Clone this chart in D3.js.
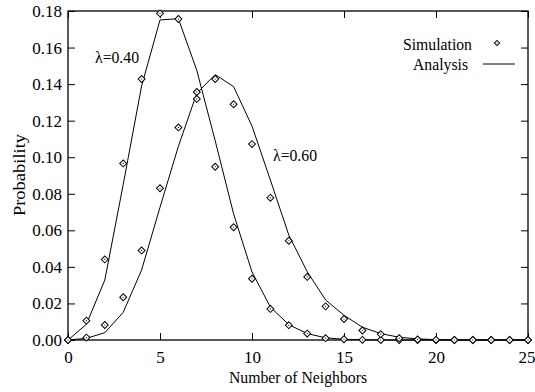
<!DOCTYPE html>
<meta charset="utf-8">
<style>
 body { margin: 0; background: #fff; }
 svg text { font-family: "Liberation Serif", "DejaVu Serif", serif; fill: #000; }
 .axis path { display: none; }
 .axis line { stroke: #000; stroke-width: 1; }
 .axis text { font-size: 17px; }
</style>
<body>
<script src="https://cdn.jsdelivr.net/npm/d3@7"></script>
<script>

 // number of neighbours on the x axis
 var neighbors = [0, 1, 2, 3, 4, 5, 6, 7, 8, 9, 10, 11, 12, 13, 14, 15, 16, 17, 18, 19, 20, 21, 22, 23, 24, 25];

 // lambda = 0.40
 var sim040 = [0.0000, 0.0106, 0.0441, 0.0966, 0.1428, 0.1787, 0.1756, 0.1319, 0.0948, 0.0617,
               0.0335, 0.0170, 0.0081, 0.0035, 0.0010, 0.0004, 0.0001, 0.0000, 0.0000, 0.0000,
               0.0000, 0.0000, 0.0000, 0.0000, 0.0000, 0.0000];
 var ana040 = [0.0000, 0.0086, 0.0328, 0.0850, 0.1390, 0.1751, 0.1758, 0.1475, 0.1090, 0.0690,
               0.0372, 0.0180, 0.0084, 0.0035, 0.0012, 0.0004, 0.0001, 0.0000, 0.0000, 0.0000,
               0.0000, 0.0000, 0.0000, 0.0000, 0.0000, 0.0000];

 // lambda = 0.60
 var sim060 = [0.0000, 0.0013, 0.0082, 0.0234, 0.0490, 0.0830, 0.1163, 0.1357, 0.1428, 0.1290,
               0.1072, 0.0778, 0.0543, 0.0345, 0.0184, 0.0115, 0.0052, 0.0032, 0.0010, 0.0003,
               0.0001, 0.0000, 0.0000, 0.0000, 0.0000, 0.0000];
 var ana060 = [0.0000, 0.0009, 0.0040, 0.0151, 0.0383, 0.0726, 0.1060, 0.1350, 0.1452, 0.1386,
               0.1170, 0.0875, 0.0574, 0.0374, 0.0219, 0.0135, 0.0070, 0.0035, 0.0015, 0.0006,
               0.0002, 0.0001, 0.0000, 0.0000, 0.0000, 0.0000];

 var xTicks = [0, 5, 10, 15, 20, 25];
 var yTicks = [0, 0.02, 0.04, 0.06, 0.08, 0.10, 0.12, 0.14, 0.16, 0.18];

 var margin = {top: 11, right: 7, bottom: 52, left: 68},
     width = 535 - margin.left - margin.right,
     height = 392 - margin.top - margin.bottom;

 var xScale = d3.scaleLinear().domain([0, 25]).range([0, width]);
 var yScale = d3.scaleLinear().domain([0, 0.18]).range([height, 0]);

 var svg = d3.select("body").append("svg")
             .attr("width", 535)
             .attr("height", 392)
             .append("g")
             .attr("transform", "translate(" + margin.left + "," + margin.top + ")");

 // axes, ticks pointing inwards on all four sides
 var gX = svg.append("g").attr("class", "axis")
    .attr("transform", "translate(0," + height + ")")
    .call(d3.axisBottom(xScale).tickValues(xTicks).tickSizeInner(-7).tickSizeOuter(0).tickPadding(11));
 // last label sits against the window edge
 gX.selectAll("text").filter(function(d) { return d === 25; }).attr("dx", -1.5);
 svg.append("g").attr("class", "axis")
    .call(d3.axisTop(xScale).tickValues(xTicks).tickSizeInner(-7).tickSizeOuter(0).tickFormat(""));
 svg.append("g").attr("class", "axis")
    .call(d3.axisLeft(yScale).tickValues(yTicks).tickSizeInner(-7).tickSizeOuter(0).tickPadding(6)
            .tickFormat(d3.format(".2f")));
 svg.append("g").attr("class", "axis")
    .attr("transform", "translate(" + width + ",0)")
    .call(d3.axisRight(yScale).tickValues(yTicks).tickSizeInner(-7).tickSizeOuter(0).tickFormat(""));
 svg.selectAll(".axis").attr("font-family", null);

 svg.append("rect")
    .attr("width", width)
    .attr("height", height)
    .attr("fill", "none")
    .attr("stroke", "#000")
    .attr("stroke-width", 1.3);

 var line = d3.line()
              .x(function(d, i) { return xScale(neighbors[i]); })
              .y(function(d) { return yScale(d); });

 [ana040, ana060].forEach(function(s) {
     svg.append("path")
        .datum(s)
        .attr("fill", "none")
        .attr("stroke", "#000")
        .attr("stroke-width", 1)
        .attr("d", line);
 });

 var diamond = d3.symbol().type(d3.symbolSquare).size(24);

 function drawPoints(s) {
     var g = svg.append("g");
     var pts = g.selectAll("g").data(s).enter().append("g")
                .attr("transform", function(d, i) {
                    return "translate(" + xScale(neighbors[i]) + "," + yScale(d) + ")";
                });
     pts.append("path")
        .attr("d", diamond)
        .attr("transform", "rotate(45)")
        .attr("fill", "#fff")
        .attr("stroke", "#000")
        .attr("stroke-width", 1);
     pts.append("circle").attr("r", 0.6).attr("fill", "#000");
 }
 drawPoints(sim040);
 drawPoints(sim060);

 // horizontal text looks a bit condensed in the original
 function label(x, y, txt, anchor) {
     svg.append("text")
        .attr("transform", "translate(" + x + "," + y + ") scale(0.9,1)")
        .attr("text-anchor", anchor)
        .attr("font-size", 17.5)
        .text(txt);
 }

 label(95 - margin.left, 63 - margin.top, "\u03bb=0.40", "start");
 label(273 - margin.left, 161 - margin.top, "\u03bb=0.60", "start");
 label(width / 2, 383 - margin.top, "Number of Neighbors", "middle");

 // legend
 label(472 - margin.left, 50 - margin.top, "Simulation", "end");
 label(468 - margin.left, 70 - margin.top, "Analysis", "end");
 var lg = svg.append("g").attr("transform", "translate(" + (497 - margin.left) + "," + (43 - margin.top) + ")");
 lg.append("path").attr("d", d3.symbol().type(d3.symbolSquare).size(14)).attr("transform", "rotate(45)")
   .attr("fill", "#fff").attr("stroke", "#000");
 lg.append("circle").attr("r", 0.5).attr("fill", "#000");
 svg.append("line")
    .attr("x1", 483 - margin.left).attr("x2", 515 - margin.left)
    .attr("y1", 64 - margin.top).attr("y2", 64 - margin.top)
    .attr("stroke", "#000");

 svg.append("text")
    .attr("transform", "translate(" + (25 - margin.left) + "," + (175 - margin.top) + ") scale(0.9,1) rotate(-90)")
    .attr("text-anchor", "middle")
    .attr("font-size", 18.5)
    .text("Probability");

</script>
